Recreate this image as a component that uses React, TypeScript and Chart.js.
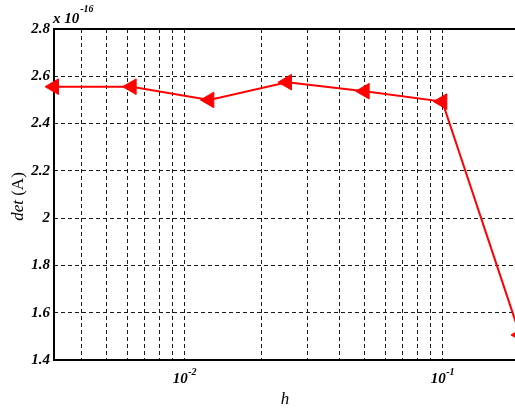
import React, { useEffect, useRef } from "react";
import { Chart, registerables } from "chart.js";

Chart.register(...registerables);

// Data (det(A) in units of 1e-16)
const hValues = [0.003125, 0.00625, 0.0125, 0.025, 0.05, 0.1, 0.2];
const detValues = [2.556, 2.556, 2.5, 2.575, 2.537, 2.493, 1.506];

// Axis definitions
const xMin = 0.003125;
const xMax = 0.2;
const xGridValues = [0.004, 0.005, 0.006, 0.007, 0.008, 0.009, 0.01, 0.02, 0.03, 0.04, 0.05, 0.06, 0.07, 0.08, 0.09, 0.1, 0.2];
const xTickValues = [0.01, 0.1];
const xTickBases = ["10", "10"];
const xTickExps = ["-2", "-1"];
const yMin = 1.4;
const yMax = 2.8;
const yStep = 0.2;
const yScaleBase = "x 10";
const yScaleExp = "-16";
const xTitle = "h";
const yTitleItalic = "det ";
const yTitleNormal = "(A)";

const SERIF = '"Liberation Serif", "Times New Roman", serif';

const annotPlugin = {
  id: "annot",
  beforeDatasetsDraw(chart: any) {
    const { ctx, chartArea } = chart;
    ctx.save();
    ctx.strokeStyle = "#000";
    ctx.lineWidth = 2;
    ctx.setLineDash([]);
    ctx.beginPath();
    ctx.moveTo(chartArea.left, chartArea.top);
    ctx.lineTo(chartArea.right + 2, chartArea.top);
    ctx.moveTo(chartArea.left, chartArea.top - 1);
    ctx.lineTo(chartArea.left, chartArea.bottom + 1);
    ctx.moveTo(chartArea.left, chartArea.bottom);
    ctx.lineTo(chartArea.right + 2, chartArea.bottom);
    ctx.stroke();
    ctx.restore();
  },
  afterDraw(chart: any) {
    const { ctx, chartArea } = chart;
    const xs = chart.scales.x;
    ctx.save();
    ctx.fillStyle = "#000";
    ctx.textBaseline = "alphabetic";
    // x tick labels with superscripts
    xTickValues.forEach((v, i) => {
      const px = xs.getPixelForValue(v);
      ctx.font = `bold italic 15px ${SERIF}`;
      const wb = ctx.measureText(xTickBases[i]).width;
      ctx.font = `bold italic 10px ${SERIF}`;
      const we = ctx.measureText(xTickExps[i]).width;
      const start = px - (wb + we) / 2;
      ctx.textAlign = "left";
      ctx.font = `bold italic 15px ${SERIF}`;
      ctx.fillText(xTickBases[i], start, chartArea.bottom + 23);
      ctx.font = `bold italic 10px ${SERIF}`;
      ctx.fillText(xTickExps[i], start + wb + 0.5, chartArea.bottom + 15);
    });
    // exponent label
    ctx.textAlign = "left";
    ctx.font = `bold italic 15px ${SERIF}`;
    const wx = ctx.measureText(yScaleBase).width;
    ctx.fillText(yScaleBase, chartArea.left - 1, chartArea.top - 6);
    ctx.font = `bold italic 10px ${SERIF}`;
    ctx.fillText(yScaleExp, chartArea.left - 1 + wx + 1, chartArea.top - 17);
    // x title
    ctx.font = `italic 17px ${SERIF}`;
    ctx.textAlign = "center";
    ctx.fillText(xTitle, 285, chartArea.bottom + 44);
    // y title
    ctx.translate(23, (chartArea.top + chartArea.bottom) / 2 + 2);
    ctx.rotate(-Math.PI / 2);
    ctx.font = `italic 17px ${SERIF}`;
    const w1 = ctx.measureText(yTitleItalic).width;
    ctx.font = `17px ${SERIF}`;
    const w2 = ctx.measureText(yTitleNormal).width;
    const s = -(w1 + w2) / 2;
    ctx.textAlign = "left";
    ctx.font = `italic 17px ${SERIF}`;
    ctx.fillText(yTitleItalic, s, 0);
    ctx.font = `17px ${SERIF}`;
    ctx.fillText(yTitleNormal, s + w1, 0);
    ctx.restore();
  },
};

export default function App() {
  const ref = useRef<HTMLCanvasElement | null>(null);
  useEffect(() => {
    const canvas = ref.current!;
    const chart = new Chart(canvas, {
      type: "line",
      data: {
        datasets: [
          {
            data: hValues.map((h, i) => ({ x: h, y: detValues[i] })),
            borderColor: "#ff0000",
            backgroundColor: "#ff0000",
            borderWidth: 2,
            pointStyle: "triangle",
            rotation: -90,
            pointRadius: 9,
            pointBorderWidth: 1,
            pointBackgroundColor: "#ff0000",
            pointBorderColor: "#ff0000",
            tension: 0,
            clip: false,
          } as any,
        ],
      },
      options: {
        animation: false,
        responsive: false,
        maintainAspectRatio: false,
        devicePixelRatio: 1,
        layout: { padding: { left: 0, top: 29, right: 20, bottom: 53 } },
        plugins: { legend: { display: false }, tooltip: { enabled: false } },
        scales: {
          x: {
            type: "logarithmic",
            min: xMin,
            max: xMax,
            afterBuildTicks: (scale: any) => {
              scale.ticks = xGridValues.map((v) => ({ value: v }));
            },
            ticks: { display: false },
            grid: { color: "#1a1a1a", lineWidth: 1, drawTicks: false },
            border: { display: false, dash: [4, 3] },
          },
          y: {
            type: "linear",
            min: yMin,
            max: yMax,
            afterFit: (scale: any) => {
              scale.width = 54;
            },
            ticks: {
              stepSize: yStep,
              padding: 4,
              color: "#000",
              font: { family: SERIF, size: 15, weight: "bold", style: "italic" },
              callback: (v: any) => String(Number(Number(v).toFixed(1))),
            },
            grid: { color: "#1a1a1a", lineWidth: 1, drawTicks: false },
            border: { display: false, dash: [4, 3] },
          },
        },
      },
      plugins: [annotPlugin],
    });
    return () => chart.destroy();
  }, []);
  return (
    <div style={{ position: "fixed", left: 0, top: 0, width: 515, height: 413, overflow: "hidden", background: "#fff" }}>
      <canvas ref={ref} width={540} height={413} style={{ width: 540, height: 413, display: "block" }} />
    </div>
  );
}
